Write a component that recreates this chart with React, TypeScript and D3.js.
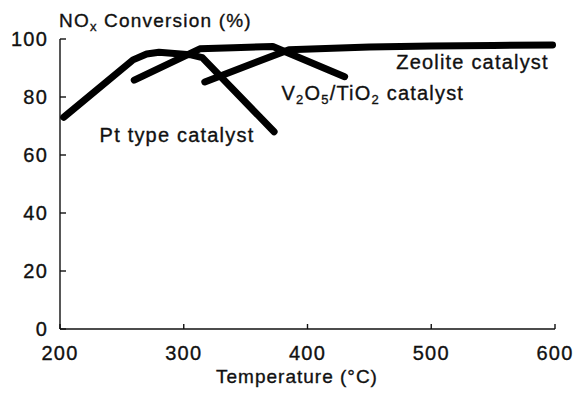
import React from "react";
import * as d3 from "d3";

// Temperature (°C) vs NOx conversion (%)
const ptTemp = [203, 259, 270, 280, 305, 315, 373];
const ptConv = [73, 92.8, 94.8, 95.4, 94.6, 93.6, 68];

const vTemp = [260, 313, 340, 372, 430];
const vConv = [85.8, 96.6, 97, 97.4, 87];

const zTemp = [317, 385, 450, 500, 550, 598];
const zConv = [85.2, 96.3, 97.2, 97.6, 97.8, 97.9];

const xTicks = [200, 300, 400, 500, 600];
const yTicks = [0, 20, 40, 60, 80, 100];

const W = 576;
const H = 394;
const FONT = "'Liberation Sans', Arial, Helvetica, sans-serif";
const INK = "#111";

export default function App() {
  const x = d3.scaleLinear().domain([200, 600]).range([60, 555]);
  const y = d3.scaleLinear().domain([0, 100]).range([329, 39]);

  const line = d3
    .line<[number, number]>()
    .x((d) => x(d[0]))
    .y((d) => y(d[1]))
    .curve(d3.curveLinear);

  const series = [
    { t: ptTemp, c: ptConv },
    { t: vTemp, c: vConv },
    { t: zTemp, c: zConv },
  ];

  const textStyle = {
    fontFamily: FONT,
    fontSize: 20,
    letterSpacing: "1.2px",
    fill: INK,
    stroke: INK,
    strokeWidth: 0.35,
  } as React.CSSProperties;

  return (
    <svg
      width={W}
      height={H}
      viewBox={`0 0 ${W} ${H}`}
      style={{ position: "absolute", left: 0, top: 0, background: "#fff" }}
    >
      <rect x={0} y={0} width={W} height={H} fill="#fff" />
      {/* axes */}
      <line x1={x(200)} x2={x(200)} y1={y(100)} y2={y(0)} stroke={INK} strokeWidth={1.4} />
      <line x1={x(200)} x2={x(600)} y1={y(0)} y2={y(0)} stroke={INK} strokeWidth={1.4} />
      {yTicks.map((v) => (
        <g key={"y" + v}>
          <line x1={x(200)} x2={x(200) + 6} y1={y(v)} y2={y(v)} stroke={INK} strokeWidth={1.4} />
          <text
            x={x(200) - 12}
            y={y(v)}
            dy="0.36em"
            textAnchor="end"
            style={textStyle}
          >
            {v}
          </text>
        </g>
      ))}
      {xTicks.map((v) => (
        <g key={"x" + v}>
          <line x1={x(v)} x2={x(v)} y1={y(0)} y2={y(0) - 5} stroke={INK} strokeWidth={1.4} />
          <text x={x(v)} y={360} textAnchor="middle" style={textStyle}>
            {v}
          </text>
        </g>
      ))}
      {/* axis titles */}
      <text x={59} y={27} style={{ ...textStyle, fontSize: 19 }}>
        NO
        <tspan fontSize={13} dy={4}>x</tspan>
        <tspan dy={-4}> Conversion (%)</tspan>
      </text>
      <text x={297} y={383} textAnchor="middle" style={{ ...textStyle, fontSize: 19, letterSpacing: "1px" }}>
        Temperature (°C)
      </text>
      {/* series */}
      {series.map((s, i) => (
        <path
          key={i}
          d={line(s.t.map((t, j) => [t, s.c[j]] as [number, number])) || ""}
          fill="none"
          stroke="#000"
          strokeWidth={7}
          strokeLinecap="round"
          strokeLinejoin="round"
        />
      ))}
      {/* labels */}
      <text x={x(595)} y={y(89.7)} textAnchor="end" style={textStyle}>
        Zeolite catalyst
      </text>
      <text x={x(379)} y={y(79)} style={textStyle}>
        V<tspan fontSize={13} dy={4}>2</tspan>
        <tspan dy={-4}>O</tspan>
        <tspan fontSize={13} dy={4}>5</tspan>
        <tspan dy={-4}>/TiO</tspan>
        <tspan fontSize={13} dy={4}>2</tspan>
        <tspan dy={-4}> catalyst</tspan>
      </text>
      <text x={x(232)} y={y(64.5)} style={textStyle}>
        Pt type catalyst
      </text>
    </svg>
  );
}
